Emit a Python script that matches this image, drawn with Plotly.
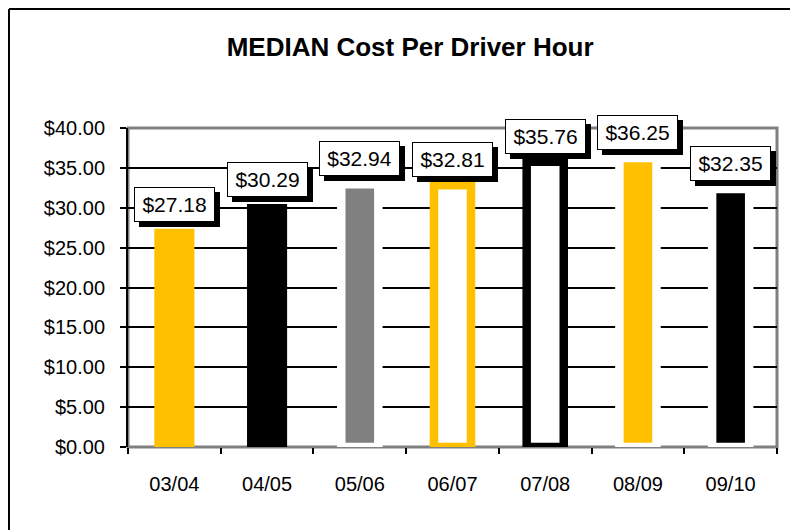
import plotly.graph_objects as go

# Fiscal years and median cost per driver hour
seasons = ["03/04", "04/05", "05/06", "06/07", "07/08", "08/09", "09/10"]
median_cost = [27.18, 30.29, 32.94, 32.81, 35.76, 36.25, 32.35]

# Excel-style look for each bar
gold = "#FFC000"
fill_colors = [gold, "#000000", "#808080", "#FFFFFF", "#FFFFFF", gold, "#000000"]
edge_colors = [gold, "#000000", "#FFFFFF", gold, "#000000", "#FFFFFF", "#FFFFFF"]
edge_widths = [3, 3, 8.5, 8.5, 8.5, 8.5, 8.5]

font_family = "Arial, 'Liberation Sans', sans-serif"

fig = go.Figure()
fig.add_trace(go.Bar(
    x=seasons,
    y=median_cost,
    width=0.4,
    marker=dict(color=fill_colors, line=dict(color=edge_colors, width=edge_widths)),
    hovertemplate="%{x}: $%{y:.2f}<extra></extra>",
))

# Value labels: black drop shadow first, then the white box on top
for season, cost in zip(seasons, median_cost):
    label = f"${cost:.2f}"
    common = dict(x=season, y=cost, xref="x", yref="y", yanchor="bottom",
                  showarrow=False, width=77, height=31, borderpad=1, borderwidth=1,
                  font=dict(family=font_family, size=21, color="#000000"))
    fig.add_annotation(text=label, bgcolor="#000000", bordercolor="#000000",
                       xshift=5, yshift=3, **common)
    fig.add_annotation(text=label, bgcolor="#FFFFFF", bordercolor="#000000",
                       xshift=0, yshift=8, **common)

# gray plot-area border (left side gets the black y axis line on top)
fig.add_shape(type="rect", xref="paper", yref="paper", x0=0, x1=1, y0=0, y1=1,
              line=dict(color="#808080", width=3), layer="between")
# outer chart frame: only its top and left edges fall inside the picture
fig.add_shape(type="line", xref="paper", yref="paper", x0=-0.1834, x1=1.2, y0=1.373, y1=1.373,
              line=dict(color="#000000", width=2), layer="above")
fig.add_shape(type="line", xref="paper", yref="paper", x0=-0.1834, x1=-0.1834, y0=-0.4, y1=1.373,
              line=dict(color="#000000", width=2), layer="above")

# page body keeps an 8px margin, so the figure is 8px smaller than the window
fig.update_layout(
    title=dict(text="<b>MEDIAN Cost Per Driver Hour</b>", x=0.509, xref="container",
               xanchor="center", y=0.925, yref="container", yanchor="middle",
               font=dict(family=font_family, size=26, color="#000000")),
    width=790,
    height=522,
    margin=dict(l=120, r=21, t=120, b=83),
    paper_bgcolor="#FFFFFF",
    plot_bgcolor="#FFFFFF",
    showlegend=False,
    font=dict(family=font_family, color="#000000"),
    xaxis=dict(
        type="category",
        showgrid=False,
        showline=False,
        zeroline=False,
        ticks="outside",
        tickson="boundaries",
        ticklen=6,
        tickwidth=2,
        tickcolor="#000000",
        tickfont=dict(size=20, color="#000000"),
        ticklabelstandoff=23,
    ),
    yaxis=dict(
        range=[0, 40],
        dtick=5,
        tickprefix="$",
        tickformat=".2f",
        showgrid=True,
        gridcolor="#000000",
        gridwidth=1.5,
        zeroline=False,
        showline=True,
        linecolor="#000000",
        linewidth=2,
        ticks="outside",
        ticklen=6,
        tickwidth=2,
        tickcolor="#000000",
        tickfont=dict(size=20, color="#000000"),
        ticklabelstandoff=11,
    ),
)

fig.write_html("out.html")
